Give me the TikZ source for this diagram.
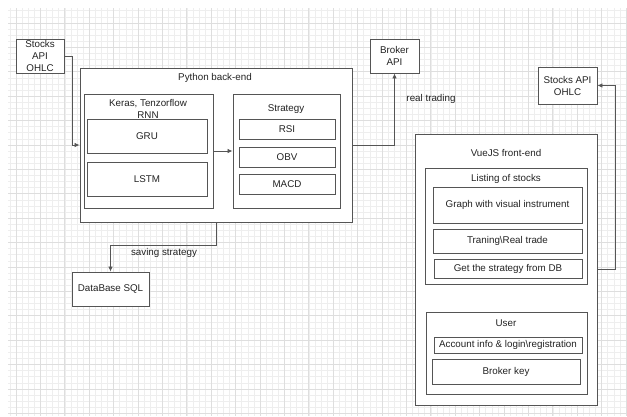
\documentclass[tikz,border=0pt]{standalone}
\usepackage{fontspec}
\setmainfont{Liberation Sans}
\usetikzlibrary{arrows.meta}
\definecolor{edge}{RGB}{85,85,85}
\definecolor{ink}{RGB}{35,35,35}
\definecolor{gridminor}{RGB}{238,238,238}
\definecolor{gridmajor}{RGB}{222,222,222}
\tikzset{
  box/.style={draw=edge, line width=0.9pt, fill=white, inner sep=0pt, text=ink, align=center,
              font=\fontsize{9.8}{12}\selectfont},
  title/.style={inner sep=0pt, text=ink, align=center, font=\fontsize{9.8}{12}\selectfont},
  link/.style={draw=edge, line width=0.8pt, -{Latex[length=5pt,width=4.5pt]}},
  minorgrid/.style={draw=gridminor, line width=0.5pt},
  majorgrid/.style={draw=gridmajor, line width=0.7pt},
}
\begin{document}
\begin{tikzpicture}[x=1pt,y=-1pt]
  \useasboundingbox[fill=white] (0,0) rectangle (627,416);
  % background grid
  \foreach \k in {0,...,101} {\draw[minorgrid] ({9.9+\k*6.1},8) -- ({9.9+\k*6.1},416);}
  \foreach \k in {0,...,66} {\draw[minorgrid] (8,{10.7+\k*6.1}) -- (627,{10.7+\k*6.1});}
  \foreach \k in {0,...,25} {\draw[majorgrid] ({16+\k*24.4},8) -- ({16+\k*24.4},416);}
  \foreach \k in {0,...,16} {\draw[majorgrid] (8,{22.9+\k*24.4}) -- (627,{22.9+\k*24.4});}

  % data sources and broker
  \node[box, minimum width=48pt, minimum height=34pt] (stocksL) at (40,56) {Stocks\\API\\OHLC};
  \node[box, minimum width=49pt, minimum height=34pt] (broker) at (394.5,56) {Broker\\API};
  \node[box, minimum width=59pt, minimum height=37pt] (stocksR) at (567.5,85.5) {Stocks API\\OHLC};
  \node[box, minimum width=77pt, minimum height=34pt] (db) at (110.5,289) {DataBase SQL};

  % Python back-end
  \node[box, minimum width=272pt, minimum height=154pt] (python) at (216,145) {};
  \node[title] (pythonT) at (215,78) {Python back-end};
  \node[box, minimum width=129pt, minimum height=114pt] (keras) at (148.5,151) {};
  \node[title] (kerasT) at (148,109) {Keras, Tenzorflow\\RNN};
  \node[box, minimum width=120pt, minimum height=34pt] (gru) at (147,136) {GRU};
  \node[box, minimum width=120pt, minimum height=34pt] (lstm) at (147,179) {LSTM};
  \node[box, minimum width=107pt, minimum height=114pt] (strategy) at (286.5,151) {};
  \node[title] (strategyT) at (286,109) {Strategy};
  \node[box, minimum width=96pt, minimum height=20pt] (rsi) at (287,129) {RSI};
  \node[box, minimum width=96pt, minimum height=20pt] (obv) at (287,157) {OBV};
  \node[box, minimum width=96pt, minimum height=20pt] (macd) at (287,184) {MACD};

  % VueJS front-end
  \node[box, minimum width=182pt, minimum height=271pt] (vue) at (506,269.5) {};
  \node[title] (vueT) at (506,153) {VueJS front-end};
  \node[box, minimum width=162pt, minimum height=116pt] (listing) at (506,226) {};
  \node[title] (listingT) at (506,179) {Listing of stocks};
  \node[box, minimum width=149pt, minimum height=36pt] (graph) at (507.5,205) {Graph with visual instrument};
  \node[box, minimum width=149pt, minimum height=24pt] (trade) at (507.5,241) {Traning\textbackslash Real trade};
  \node[box, minimum width=148pt, minimum height=19pt] (getdb) at (508,268.5) {Get the strategy from DB};
  \node[box, minimum width=161pt, minimum height=82pt] (user) at (506.5,353) {};
  \node[title] (userT) at (506,323) {User};
  \node[box, minimum width=148pt, minimum height=16pt] (account) at (508,345) {Account info \& login\textbackslash registration};
  \node[box, minimum width=148pt, minimum height=25pt] (brokerkey) at (506,371.5) {Broker key};

  % connectors
  \draw[link] (stocksL.east) -- ++(8,0) |- (python.west);
  \draw[link] (keras.east) -- (strategy.west);
  \draw[link] (python.east) -| (broker.south);
  \draw[link] (python.south) -- ++(0,23) -| (db.north);
  \draw[link] (vue.east) -- ++(18,0) |- (stocksR.east);

  % connector labels
  \node[title] (realT) at (431,99) {real trading};
  \node[title] (savingT) at (164,253) {saving strategy};
\end{tikzpicture}
\end{document}
